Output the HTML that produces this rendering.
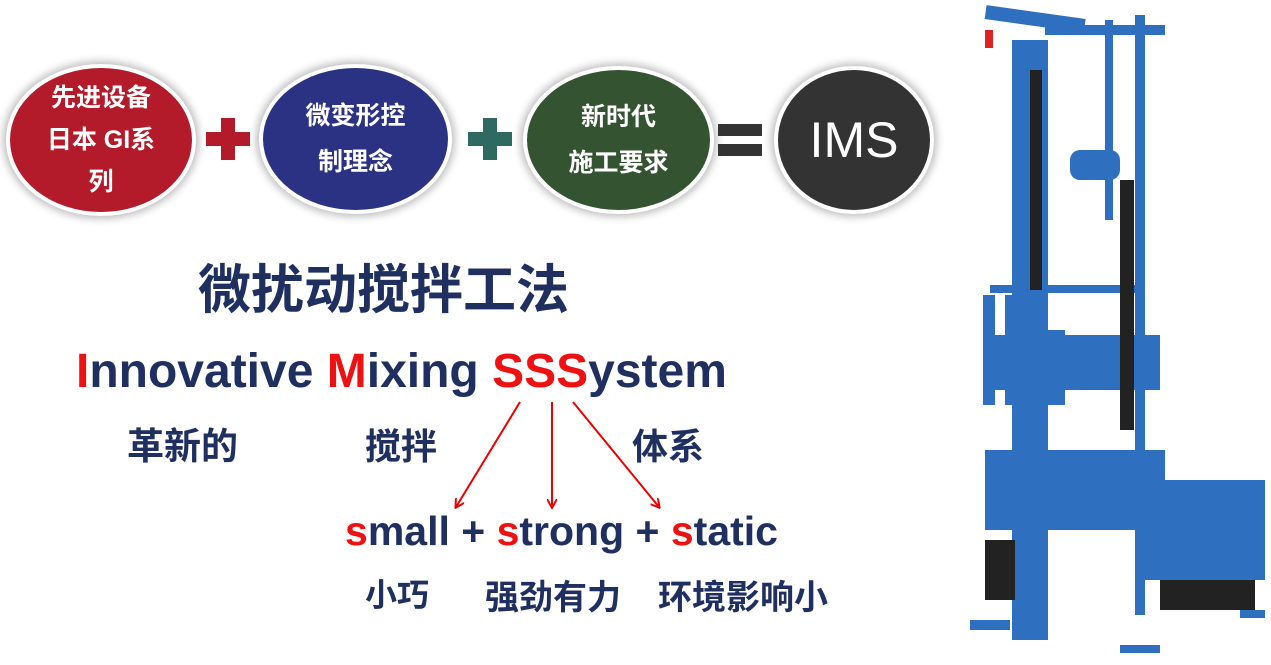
<!DOCTYPE html>
<html><head><meta charset="utf-8"><style>
body{margin:0;width:1271px;height:665px;background:#fff;position:relative;overflow:hidden;font-family:"Liberation Sans","Noto Sans CJK SC",sans-serif;}
.c{position:absolute;border-radius:50%;border:4px solid #fff;box-shadow:0 0 8px 3px rgba(0,0,0,0.25);color:#fff;font-weight:bold;display:flex;align-items:center;justify-content:center;text-align:center;box-sizing:border-box;}
.t{position:absolute;font-weight:bold;color:#1f3060;white-space:nowrap;}
.r{color:#ee1111;}
</style></head><body>
<div class="c" style="left:6px;top:64px;width:190px;height:152px;background:#b31b2a;font-size:25px;line-height:42px;">先进设备<br>日本 GI系<br>列</div>
<div class="c" style="left:259px;top:64px;width:193px;height:150px;background:#2c3283;font-size:25px;line-height:46px;">微变形控<br>制理念</div>
<div class="c" style="left:523px;top:66px;width:191px;height:148px;background:#345331;font-size:25px;line-height:46px;">新时代<br>施工要求</div>
<div class="c" style="left:774px;top:66px;width:160px;height:148px;background:#333;font-size:50px;font-weight:normal;">IMS</div>
<div style="position:absolute;left:206px;top:132px;width:44px;height:14px;background:#b31b2a"></div>
<div style="position:absolute;left:221px;top:118px;width:14px;height:42px;background:#b31b2a"></div>
<div style="position:absolute;left:468px;top:132px;width:44px;height:14px;background:#2f6a62"></div>
<div style="position:absolute;left:483px;top:118px;width:14px;height:42px;background:#2f6a62"></div>
<div style="position:absolute;left:718px;top:124px;width:44px;height:12px;background:#333"></div>
<div style="position:absolute;left:718px;top:144px;width:44px;height:12px;background:#333"></div>
<div class="t" style="left:198px;top:248px;font-size:53px;">微扰动搅拌工法</div>
<div class="t" style="left:76px;top:344px;font-size:48px;"><span class="r">I</span>nnovative <span class="r">M</span>ixing <span class="r">SSS</span>ystem</div>
<div class="t" style="left:127px;top:416px;font-size:37px;">革新的</div>
<div class="t" style="left:365px;top:418px;font-size:36px;">搅拌</div>
<div class="t" style="left:632px;top:418px;font-size:36px;">体系</div>
<svg style="position:absolute;left:0;top:0" width="1271" height="665">
<defs><marker id="a" markerWidth="10" markerHeight="10" refX="8" refY="5" orient="auto" markerUnits="userSpaceOnUse"><path d="M0,0 L9,5 L0,10" fill="none" stroke="#e00" stroke-width="2"/></marker></defs>
<g stroke="#e00" stroke-width="2" fill="none" marker-end="url(#a)">
<line x1="520" y1="402" x2="456" y2="507"/><line x1="552" y1="402" x2="552" y2="507"/><line x1="573" y1="402" x2="659" y2="507"/></g>
<g fill="#2f6fc0">
<rect x="1012" y="40" width="36" height="600"/>
<rect x="985" y="12" width="100" height="14" transform="rotate(8 1035 20)"/>
<rect x="1045" y="25" width="120" height="10"/>
<rect x="990" y="285" width="150" height="8"/>
<rect x="983" y="295" width="12" height="110"/>
<rect x="1005" y="295" width="35" height="60"/>
<rect x="1005" y="330" width="60" height="75"/>
<rect x="995" y="335" width="165" height="55"/>
<rect x="1070" y="150" width="50" height="30" rx="10"/>
<rect x="1140" y="480" width="125" height="100"/>
<rect x="985" y="450" width="180" height="80"/>
<rect x="970" y="620" width="40" height="10"/>
<rect x="1120" y="645" width="40" height="8"/>
<rect x="1240" y="610" width="25" height="8"/>
<rect x="1135" y="15" width="10" height="600"/>
<rect x="1105" y="20" width="8" height="200"/>
</g>
<g fill="#222"><rect x="1030" y="70" width="12" height="220"/><rect x="1120" y="180" width="14" height="250"/><rect x="1160" y="580" width="95" height="30"/><rect x="985" y="540" width="30" height="60"/></g>
<rect x="985" y="30" width="8" height="18" fill="#d22"/>
</svg>
<div class="t" style="left:345px;top:508px;font-size:41px;"><span class="r">s</span>mall + <span class="r">s</span>trong + <span class="r">s</span>tatic</div>
<div class="t" style="left:365px;top:570px;font-size:32px;">小巧</div>
<div class="t" style="left:485px;top:570px;font-size:34px;">强劲有力</div>
<div class="t" style="left:658px;top:570px;font-size:34px;">环境影响小</div>
</body></html>
